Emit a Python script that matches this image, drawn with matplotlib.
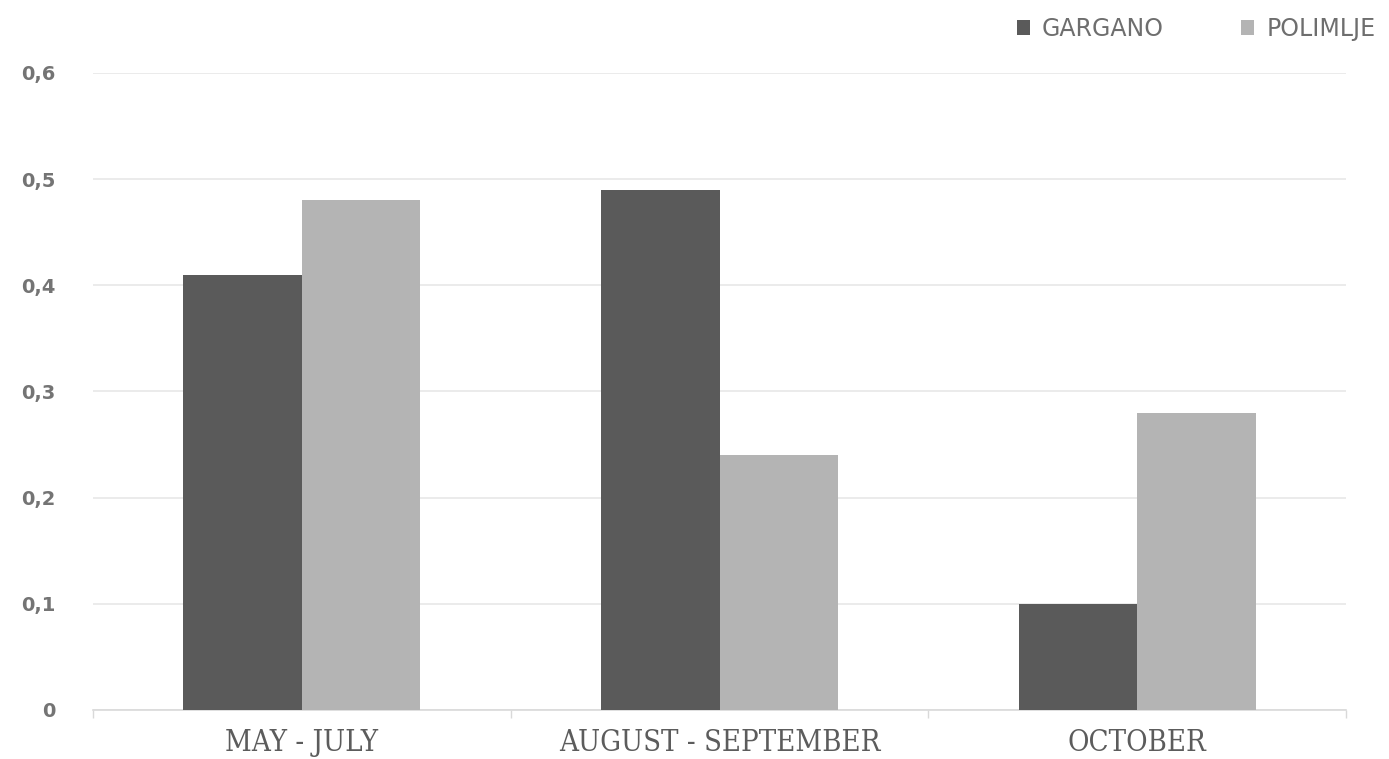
import matplotlib
matplotlib.use("Agg")
import matplotlib.pyplot as plt
import numpy as np

categories = ["MAY - JULY", "AUGUST - SEPTEMBER", "OCTOBER"]
gargano = [0.41, 0.49, 0.10]
polimlje = [0.48, 0.24, 0.28]
series_names = ["GARGANO", "POLIMLJE"]
yticks = [0, 0.1, 0.2, 0.3, 0.4, 0.5, 0.6]
ytick_labels = ["0", "0,1", "0,2", "0,3", "0,4", "0,5", "0,6"]

dark = "#5a5a5a"
light = "#b4b4b4"

fig = plt.figure(figsize=(13.89, 7.59), dpi=100)
ax = fig.add_axes([0.067, 0.0646, 0.902, 0.8394])

x = np.arange(len(categories))
w = 0.284
ax.bar(x - w / 2, gargano, width=w, color=dark, label=series_names[0], zorder=3)
ax.bar(x + w / 2, polimlje, width=w, color=light, label=series_names[1], zorder=3)

ax.set_xlim(-0.5, len(categories) - 0.5)
ax.set_ylim(0, 0.6)
ax.set_yticks(yticks)
ax.set_yticklabels(ytick_labels, color="#747474", fontsize=14, fontweight="bold")
ax.yaxis.grid(True, color="#e8e8e8", linewidth=1.2, zorder=0)
ax.tick_params(axis="y", length=0, pad=27)

ax.set_xticks(x)
ax.set_xticklabels(categories, color="#5c5c5c", fontsize=21,
                   family=["DejaVu Serif", "Liberation Serif"], fontstretch="condensed")
ax.tick_params(axis="x", length=0, pad=14)
# boundary ticks between categories on the baseline
ax.set_xticks(np.arange(-0.5, len(categories)), minor=True)
ax.tick_params(axis="x", which="minor", length=6, color="#d9d9d9", width=1)

for s in ["top", "right", "left"]:
    ax.spines[s].set_visible(False)
ax.spines["bottom"].set_color("#d9d9d9")
ax.spines["bottom"].set_linewidth(1.2)

leg = fig.legend(loc="center right", bbox_to_anchor=(0.997, 0.962), ncol=2, frameon=False,
                 handlelength=0.55, handleheight=0.55, columnspacing=3.3, handletextpad=0.5,
                 fontsize=17, borderaxespad=0.0)
for t in leg.get_texts():
    t.set_color("#6e6e6e")

fig.savefig("out.png", dpi=100, facecolor="white")
